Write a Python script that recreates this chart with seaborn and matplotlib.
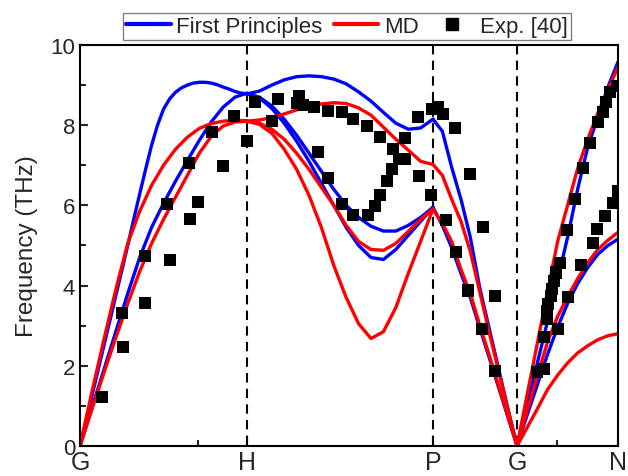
import numpy as np
import pandas as pd
import matplotlib
matplotlib.use("Agg")
import matplotlib.pyplot as plt
from matplotlib.lines import Line2D
import seaborn as sns

# ---------------------------------------------------------------------------
# k-path: high-symmetry points on a normalised path coordinate
# ---------------------------------------------------------------------------
k_labels = ["G", "H", "P", "G", "N"]
k_nodes = [0.0, 0.3104, 0.6561, 0.8123, 1.0]
k_minor = [0.219, 0.887]

# ---------------------------------------------------------------------------
# Phonon branches (THz), sampled evenly along each segment of the path
# ---------------------------------------------------------------------------
# G -> H
fp_gh = [
    [0, 0.62, 1.25, 1.87, 2.5, 3.12, 3.75, 4.37, 5.0, 5.65, 6.28, 6.9, 7.5,
     8.0, 8.4, 8.65, 8.82, 8.93, 9.0, 9.05, 9.07, 9.07, 9.05, 9.01, 8.95,
     8.9, 8.84, 8.8, 8.78],
    [0, 0.95, 1.9, 2.85, 3.8, 4.7, 5.45, 6.05, 6.6, 7.12, 7.62, 8.08, 8.45, 8.7, 8.8],
]
md_gh = [
    [0, 1.35, 2.65, 3.9, 5.05, 5.85, 6.5, 7.0, 7.4, 7.7, 7.92, 8.04, 8.1, 8.12, 8.11],
    [0, 0.92, 1.82, 2.7, 3.55, 4.35, 5.05, 5.65, 6.2, 6.75, 7.3, 7.72, 7.98, 8.08, 8.1],
]

# H -> P
fp_hp = [
    [8.78, 8.85, 9.0, 9.13, 9.21, 9.23, 9.21, 9.15, 9.03, 8.83, 8.6, 8.32, 8.05, 7.9, 7.93, 8.15],
    [8.78, 8.7, 8.48, 8.15, 7.75, 7.3, 6.85, 6.4, 6.0, 5.7, 5.48, 5.36, 5.36, 5.5, 5.7, 5.95],
    [8.78, 8.68, 8.42, 8.05, 7.6, 7.1, 6.55, 6.0, 5.45, 5.0, 4.7, 4.65, 4.9, 5.25, 5.6, 5.95],
]
md_hp = [
    [8.1, 8.13, 8.19, 8.28, 8.38, 8.47, 8.53, 8.56, 8.54, 8.43, 8.25, 7.95, 7.65, 7.38, 7.1, 7.02],
    [8.1, 8.05, 7.9, 7.65, 7.3, 6.9, 6.45, 6.0, 5.5, 5.1, 4.9, 4.88, 5.05, 5.35, 5.65, 5.91],
    [8.1, 8.02, 7.8, 7.4, 6.9, 6.25, 5.45, 4.5, 3.7, 3.05, 2.68, 2.85, 3.45, 4.3, 5.1, 5.91],
]

# P -> G
fp_pg = [
    [8.15, 7.85, 6.95, 6.15, 5.2, 3.95, 2.95, 1.95, 0.95, 0],
    [5.95, 5.5, 4.95, 4.3, 3.7, 2.95, 2.22, 1.48, 0.74, 0],
]
md_pg = [
    [7.02, 6.75, 6.15, 5.6, 4.85, 3.85, 2.85, 1.9, 0.93, 0],
    [5.91, 5.55, 5.1, 4.4, 3.8, 3.02, 2.28, 1.52, 0.76, 0],
]

# G -> N
fp_gn = [
    [0, 1.03, 2.06, 3.09, 4.12, 5.2, 6.4, 7.45, 8.2, 8.95, 9.58],
    [0, 0.77, 1.52, 2.27, 2.95, 3.55, 4.05, 4.45, 4.78, 5.0, 5.16],
]
md_gn = [
    [0, 1.28, 2.55, 3.82, 5.08, 6.0, 6.92, 7.65, 8.3, 8.88, 9.45],
    [0, 0.87, 1.73, 2.58, 3.22, 3.72, 4.17, 4.57, 4.9, 5.13, 5.33],
    [0, 0.46, 0.92, 1.4, 1.76, 2.07, 2.32, 2.5, 2.65, 2.75, 2.8],
]

# ---------------------------------------------------------------------------
# Inelastic neutron scattering data, Exp. [40]
# ---------------------------------------------------------------------------
exp_k = [
    0.041, 0.078, 0.080, 0.121, 0.121, 0.167, 0.162, 0.204, 0.219, 0.203,
    0.245, 0.266, 0.286, 0.310, 0.325,
    0.357, 0.368, 0.407, 0.403, 0.414, 0.435, 0.442, 0.461, 0.461, 0.487,
    0.487, 0.507, 0.507, 0.533, 0.535, 0.548, 0.558, 0.558, 0.571, 0.580,
    0.582, 0.593, 0.604, 0.604, 0.628, 0.630, 0.652, 0.654,
    0.665, 0.675, 0.697, 0.725, 0.680, 0.749, 0.699, 0.721, 0.771, 0.747, 0.771,
    0.849, 0.862, 0.862, 0.888, 0.868, 0.868, 0.870, 0.875, 0.877, 0.881,
    0.885, 0.892, 0.907, 0.931, 0.954, 0.961, 0.976, 0.991, 1.000,
    0.905, 0.920, 0.935, 0.948, 0.963, 0.972, 0.978, 0.985, 0.998,
]
exp_f = [
    1.22, 3.32, 2.47, 4.74, 3.57, 4.64, 6.03, 5.66, 6.08, 7.06,
    7.83, 6.98, 8.23, 7.61, 8.58,
    8.10, 8.65, 8.73, 8.55, 8.50, 8.45, 7.33, 8.35, 6.68, 8.33,
    6.03, 8.15, 5.76, 7.98, 5.76, 5.98, 6.26, 7.71, 6.61, 6.91,
    7.41, 7.16, 7.16, 7.68, 8.20, 6.73, 6.26, 8.40,
    8.45, 8.28, 7.93, 6.78, 5.64, 5.46, 4.84, 3.88, 3.74, 2.92, 1.87,
    1.85, 1.92, 2.72, 2.92, 3.17, 3.37, 3.54, 3.74, 3.91, 4.12,
    4.33, 4.56, 3.72, 4.51, 5.06, 5.41, 5.74, 6.06, 6.36,
    5.39, 6.16, 6.93, 7.56, 8.08, 8.33, 8.58, 8.83, 8.98,
]

# ---------------------------------------------------------------------------
# Long-form table of all branch samples
# ---------------------------------------------------------------------------
segments = {
    "First Principles": [fp_gh, fp_hp, fp_pg, fp_gn],
    "MD": [md_gh, md_hp, md_pg, md_gn],
}
rows = []
for method, segs in segments.items():
    for s, branches in enumerate(segs):
        for b, freqs in enumerate(branches):
            ks = np.linspace(k_nodes[s], k_nodes[s + 1], len(freqs))
            for k, f in zip(ks, freqs):
                rows.append({"method": method, "branch": f"{method}-{s}-{b}",
                             "k": k, "freq": f})
df = pd.DataFrame(rows)
exp_df = pd.DataFrame({"k": exp_k, "freq": exp_f})

# ---------------------------------------------------------------------------
# Style
# ---------------------------------------------------------------------------
sns.set_style("ticks")
plt.rcParams["font.family"] = ["Liberation Sans", "DejaVu Sans"]
plt.rcParams["axes.linewidth"] = 1.5

colors = {"First Principles": "#0000FF", "MD": "#FF0000"}

fig = plt.figure(figsize=(6.28, 4.77), dpi=100)
ax = fig.add_axes([0.1274, 0.0629, 0.8567, 0.8407])

sns.lineplot(data=df, x="k", y="freq", hue="method", units="branch",
             estimator=None, sort=False, palette=colors,
             hue_order=["First Principles", "MD"], linewidth=2.4,
             legend=False, ax=ax)

# high-symmetry guide lines (drawn top to bottom)
for k in k_nodes[1:4]:
    ax.plot([k, k], [10, 0], color="black", lw=1.5, ls=(0, (4.5, 3)), zorder=1)

sns.scatterplot(data=exp_df, x="k", y="freq", marker="s", s=80,
                color="black", edgecolor="none", linewidth=0, zorder=5,
                legend=False, ax=ax)

ax.set_xlim(0, 1)
ax.set_ylim(0, 10)
ax.set_xticks(k_nodes)
ax.set_xticklabels(k_labels)
ax.set_xticks(k_minor, minor=True)
ax.set_yticks(np.arange(0, 11, 2))
ax.set_yticks(np.arange(1, 10, 2), minor=True)
ax.set_xlabel("")
ax.set_ylabel("Frequency (THz)", fontsize=17.5, labelpad=9)

ax.tick_params(axis="both", which="both", direction="in", width=1.5,
               top=False, right=False)
ax.tick_params(axis="y", which="major", labelsize=16)
ax.tick_params(axis="x", which="major", labelsize=18, pad=3)
ax.tick_params(axis="both", which="major", length=6)
ax.tick_params(axis="both", which="minor", length=4)
for sp in ax.spines.values():
    sp.set_visible(True)
    sp.set_linewidth(1.5)
    sp.set_color("black")

handles = [
    Line2D([], [], color=colors["First Principles"], lw=3),
    Line2D([], [], color=colors["MD"], lw=3),
    Line2D([], [], ls="none", marker="s", color="black", ms=9),
]
fig.legend(handles, ["First Principles", "MD", "Exp. [40]"], loc="center",
           bbox_to_anchor=(0.5525, 0.9423), ncol=3, frameon=True,
           fancybox=False, edgecolor="#808080", framealpha=1, fontsize=16,
           handlelength=2.0, handletextpad=0.25, columnspacing=0.5,
           borderpad=0.15, borderaxespad=0)

fig.savefig("out.png", dpi=100)
